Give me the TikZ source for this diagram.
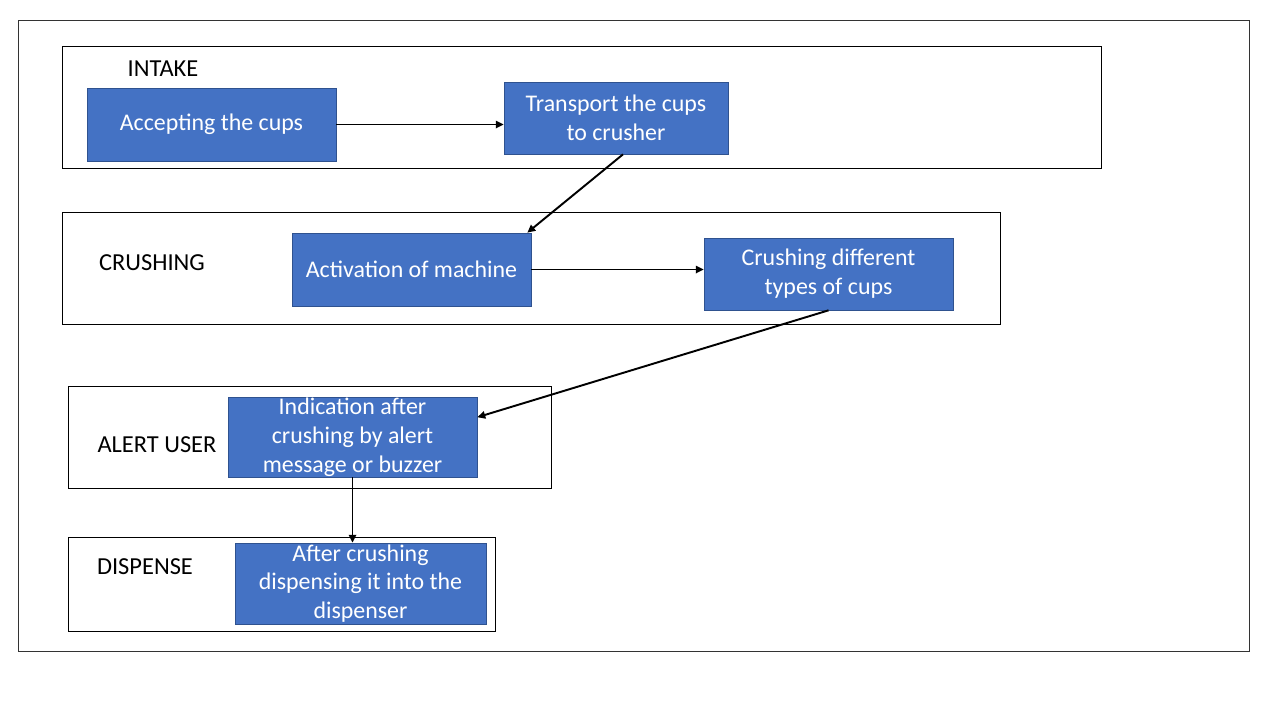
\documentclass[tikz,border=0pt]{standalone}
\usepackage{fontspec}
\setmainfont{Carlito}
\usetikzlibrary{arrows.meta,positioning}
\definecolor{boxblue}{HTML}{4472C4}
\definecolor{boxedge}{HTML}{2F528F}
\tikzset{
	stepbox/.style={draw=boxedge, fill=boxblue, text=white, inner sep=0pt, align=center,
		font=\fontsize{13.6}{16.4}\selectfont},
	stagelabel/.style={font=\fontsize{13.9}{16}\selectfont},
	flow/.style={line width=1.1pt, -{Triangle[length=4.5pt,width=4.2pt]}}
}

\begin{document}
\begin{tikzpicture}[x=0.02cm, y=-0.02cm]
	\useasboundingbox (0,0) rectangle (1280,720);
	\draw[line width=0.5pt, black!80] (18,20) rectangle (1249,651);

	%STAGES
	\draw[line width=0.5pt] (62,46) rectangle (1101,168);
	\draw[line width=0.5pt] (62,212) rectangle (1000,324);
	\draw[line width=0.5pt] (68,386) rectangle (551,488);
	\draw[line width=0.5pt] (68,537) rectangle (495,631);

	\node[stagelabel] (intake) at (163,69) {INTAKE};
	\node[stagelabel] (crushing) at (152,263) {CRUSHING};
	\node[stagelabel] (alert) at (157,445) {ALERT USER};
	\node[stagelabel] (dispense) at (145,567) {DISPENSE};

	%BOXES
	\node[stepbox, minimum width=4.98cm, minimum height=1.46cm] (accept) at (211.5,124.5) {Accepting the cups};
	\node[stepbox, minimum width=4.48cm, minimum height=1.44cm] (transport) at (616,118) {Transport the cups\\to crusher};
	\node[stepbox, minimum width=4.78cm, minimum height=1.46cm] (activate) at (411.5,269.5) {Activation of machine};
	\node[stepbox, minimum width=4.98cm, minimum height=1.44cm] (crushtypes) at (828.5,274) {Crushing different\\types of cups};
	\node[stepbox, minimum width=4.98cm, minimum height=1.60cm] (indicate) at (352.5,437) {Indication after\\crushing by alert\\message or buzzer};
	\node[stepbox, minimum width=5.02cm, minimum height=1.62cm] (dispenser) at (360.5,583.5) {After crushing\\dispensing it into the\\dispenser};

	%LINES
	\draw[flow] (accept.east) -- (accept.east -| transport.west);
	\draw[flow] ([xshift=0.14cm]transport.south) -- ([xshift=-0.08cm]activate.north east);
	\draw[flow] (activate.east) -- (activate.east -| crushtypes.west);
	\draw[flow] (crushtypes.south) -- (indicate.9);
	\draw[flow] (indicate.south) -- (indicate.south |- dispenser.north);
\end{tikzpicture}
\end{document}
